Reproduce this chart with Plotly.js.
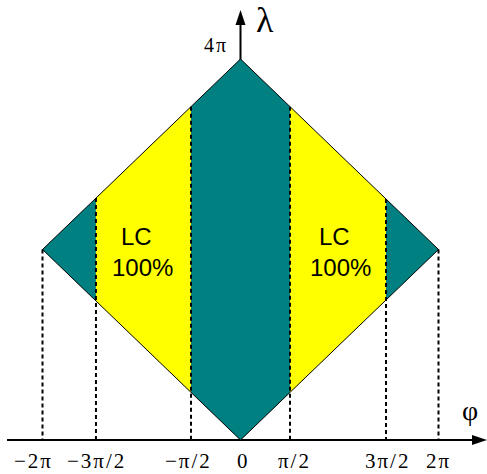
<!DOCTYPE html>
<html>
<head>
<meta charset="utf-8">
<script src="https://cdn.plot.ly/plotly-3.0.1.min.js"></script>
<style>html,body{margin:0;padding:0;background:#fff;}#chart{width:487px;height:474px;}</style>
</head>
<body>
<div id="chart"></div>
<script>
// ---- data (φ and λ in units of π) ----
const boundaries = [-2, -1.46, -0.5, 0.5, 1.47, 2];      // region borders on φ
const regionKinds = ['teal', 'yellow', 'teal', 'yellow', 'teal'];
const lambdaTop = 4;                                    // λ = 4π at apex
const tickValues = [-2, -1.46, -0.5, 0, 0.5, 1.47, 2];
const tickLabels = ['\u22122\u03c0', '\u22123\u03c0/2', '\u2212\u03c0/2', '0', '\u03c0/2', '3\u03c0/2', '2\u03c0'];
const regionLabelX = [-1, 1];
const regionLabelY = 2;
const regionLabelLines = ['LC', '100%'];
const apexLabel = '4\u03c0';
const xAxisLabel = '\u03c6';
const yAxisLabel = '\u03bb';

// ---- styles ----
const COLORS = {teal: '#008080', yellow: '#ffff00'};
const PI = Math.PI;
const W = 487, H = 474;
const X0PX = 240.5, XPXPI = 99;     // φ=0 pixel, pixels per π
const Y0PX = 440, YPXPI = 95.25;    // λ=0 pixel, pixels per π
const tickShift = [-9, 1, -3, 2.5, 4, 1, 0];
const spaced = t => '<span style="letter-spacing:2px">' + t + '</span>';

const half = lambdaTop / 2;
const lower = p => Math.abs(p);
const upper = p => lambdaTop - Math.abs(p);

const traces = [];
for (let i = 0; i < regionKinds.length; i++) {
  const a = boundaries[i], b = boundaries[i + 1];
  const xs = [], ys = [];
  xs.push(a); ys.push(lower(a));
  if (a < 0 && b > 0) { xs.push(0); ys.push(0); }
  xs.push(b); ys.push(lower(b));
  xs.push(b); ys.push(upper(b));
  if (a < 0 && b > 0) { xs.push(0); ys.push(lambdaTop); }
  xs.push(a); ys.push(upper(a));
  traces.push({
    type: 'scatter', mode: 'lines', fill: 'toself',
    x: xs.map(v => v * PI), y: ys.map(v => v * PI),
    fillcolor: COLORS[regionKinds[i]], line: {width: 0}, hoverinfo: 'skip'
  });
}
// outline of the diamond
const left = boundaries[0], right = boundaries[boundaries.length - 1];
traces.push({
  type: 'scatter', mode: 'lines',
  x: [left, 0, right, 0, left].map(v => v * PI),
  y: [half, 0, half, lambdaTop, half].map(v => v * PI),
  line: {color: '#000', width: 1}, hoverinfo: 'skip'
});
// dashed verticals
boundaries.forEach(b => {
  traces.push({
    type: 'scatter', mode: 'lines',
    x: [b * PI, b * PI], y: [upper(b) * PI, 0],
    line: {color: '#000', width: 2, dash: '4px,3px'}, hoverinfo: 'skip'
  });
});

const serif = 'Liberation Serif, Times New Roman, serif';
const sans = 'Liberation Sans, Arial, sans-serif';
const annotations = [];
tickValues.forEach((v, i) => {
  annotations.push({
    x: v * PI, xref: 'x', y: 0, yref: 'paper',
    text: spaced(tickLabels[i]), showarrow: false, xanchor: 'center', yanchor: 'bottom', borderpad: 0,
    xshift: tickShift[i], font: {family: serif, size: 21, color: '#000'}
  });
});
regionLabelX.forEach(x => {
  annotations.push({x: x * PI, y: regionLabelY * PI, text: regionLabelLines[0], showarrow: false,
    xanchor: 'center', yanchor: 'middle', xshift: -5, yshift: 13,
    font: {family: sans, size: 24, color: '#000'}});
  annotations.push({x: x * PI, y: regionLabelY * PI, text: regionLabelLines[1], showarrow: false,
    xanchor: 'center', yanchor: 'middle', xshift: 1, yshift: -18,
    font: {family: sans, size: 24, color: '#000'}});
});
annotations.push({x: 215.5 / W, xref: 'paper', y: 1 - 45 / H, yref: 'paper', text: spaced(apexLabel),
  xanchor: 'center', yanchor: 'middle', showarrow: false, font: {family: serif, size: 20, color: '#000'}});
annotations.push({x: 265 / W, xref: 'paper', y: 1 - 20 / H, yref: 'paper', text: yAxisLabel,
  xanchor: 'center', yanchor: 'middle', showarrow: false, font: {family: serif, size: 36, color: '#000'}});
annotations.push({x: 470 / W, xref: 'paper', y: 1 - 410 / H, yref: 'paper', text: xAxisLabel,
  xanchor: 'center', yanchor: 'middle', showarrow: false, font: {family: serif, size: 28, color: '#000'}});

const shapes = [
  {type: 'line', layer: 'below', xref: 'paper', yref: 'y', x0: 7 / W, x1: 476 / W, y0: 0, y1: 0, line: {color: '#000', width: 2}},
  {type: 'line', layer: 'below', xref: 'x', yref: 'paper', x0: 0, x1: 0, y0: 1 - Y0PX / H, y1: 1 - 22 / H, line: {color: '#000', width: 2}},
  {type: 'path', xref: 'paper', yref: 'y', xsizemode: 'pixel', ysizemode: 'pixel', xanchor: 1, yanchor: 0,
   path: 'M0,0 L-15,5 L-15,-5 Z', fillcolor: '#000', line: {width: 0}},
  {type: 'path', xref: 'x', yref: 'paper', xsizemode: 'pixel', ysizemode: 'pixel', xanchor: 0, yanchor: 1 - 10 / H,
   path: 'M0,0 L5,-15 L-5,-15 Z', fillcolor: '#000', line: {width: 0}}
];

const layout = {
  width: W, height: H, margin: {l: 0, r: 0, t: 0, b: 0},
  paper_bgcolor: '#fff', plot_bgcolor: '#fff', showlegend: false,
  xaxis: {visible: false, range: [-X0PX / XPXPI * PI, (W - X0PX) / XPXPI * PI], fixedrange: true},
  yaxis: {visible: false, range: [-(H - Y0PX) / YPXPI * PI, Y0PX / YPXPI * PI], fixedrange: true},
  annotations: annotations, shapes: shapes
};
Plotly.newPlot('chart', traces, layout, {staticPlot: true, displayModeBar: false});
</script>
</body>
</html>
